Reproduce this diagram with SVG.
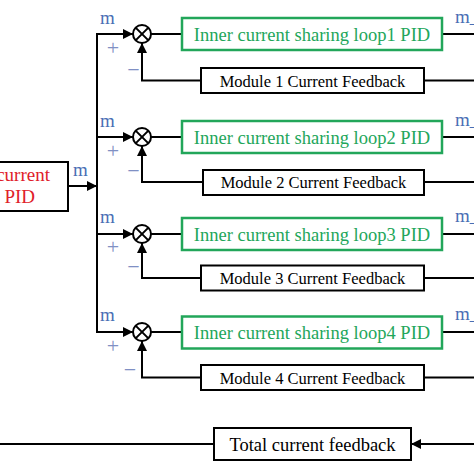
<svg xmlns="http://www.w3.org/2000/svg" width="474" height="474" viewBox="0 0 474 474">
<defs>
<marker id="ah" viewBox="0 0 10 10" refX="10" refY="5" markerWidth="10" markerHeight="10" markerUnits="userSpaceOnUse" orient="auto">
<path d="M0,0 L10,5 L0,10 z" fill="#000"/>
</marker>
<style>
.ln{stroke:#000;stroke-width:2;fill:none}
.arr{stroke:#000;stroke-width:2;fill:none;marker-end:url(#ah)}
.gbox{fill:#fff;stroke:#22a65a;stroke-width:2.5}
.bbox{fill:#fff;stroke:#000;stroke-width:2}
.gt{font-family:"Liberation Serif","Times New Roman",serif;font-size:18.5px;fill:#22a65a;text-anchor:middle}
.bt{font-family:"Liberation Serif","Times New Roman",serif;font-size:16.5px;fill:#000;text-anchor:middle}
.tt{font-family:"Liberation Serif","Times New Roman",serif;font-size:18.5px;fill:#000;text-anchor:middle}
.rt{font-family:"Liberation Serif","Times New Roman",serif;font-size:19px;fill:#e0202a;text-anchor:end}
.ml{font-family:"Liberation Serif","Times New Roman",serif;font-size:19px;fill:#4a6fb5}
.sg{font-family:"Liberation Serif","Times New Roman",serif;font-size:22px;fill:#8090c4;text-anchor:middle}
.sum{fill:#fff;stroke:#000;stroke-width:2}
</style>
</defs>
<rect width="474" height="474" fill="#fff"/>

<g id="connectors">
<line class="ln" x1="97" y1="33" x2="97" y2="333"/>
<line class="arr" x1="68" y1="186" x2="97" y2="186"/>
<path class="arr" d="M96,34 H133"/>
<line class="ln" x1="151" y1="34" x2="182" y2="34"/>
<line class="ln" x1="442" y1="34" x2="474" y2="34"/>
<path class="arr" d="M201,80.5 H142 V43"/>
<line class="ln" x1="424" y1="80.5" x2="474" y2="80.5"/>
<path class="arr" d="M97,137 H133"/>
<line class="ln" x1="151" y1="137" x2="182" y2="137"/>
<line class="ln" x1="442" y1="137" x2="474" y2="137"/>
<path class="arr" d="M203,182 H142 V146"/>
<line class="ln" x1="424" y1="182" x2="474" y2="182"/>
<path class="arr" d="M97,234 H133"/>
<line class="ln" x1="151" y1="234" x2="182" y2="234"/>
<line class="ln" x1="442" y1="234" x2="474" y2="234"/>
<path class="arr" d="M201,278 H142 V243"/>
<line class="ln" x1="424" y1="278" x2="474" y2="278"/>
<path class="arr" d="M96,332 H133"/>
<line class="ln" x1="151" y1="332" x2="182" y2="332"/>
<line class="ln" x1="442" y1="332" x2="474" y2="332"/>
<path class="arr" d="M201,377.5 H142 V341"/>
<line class="ln" x1="424" y1="377.5" x2="474" y2="377.5"/>
<line class="ln" x1="0" y1="444" x2="214" y2="444"/>
<line class="arr" x1="474" y1="444" x2="411" y2="444"/>
</g>

<g id="outer-pid">
<rect class="bbox" x="-20" y="162" width="88" height="49"/>
<text class="rt" x="50" y="181">current</text>
<text class="rt" x="35" y="203">PID</text>
<text class="ml" x="73" y="176">m</text>
</g>

<g id="loop1">
<text class="ml" x="100" y="24">m</text>
<text class="sg" x="113" y="55">+</text>
<text class="sg" x="133.5" y="77">−</text>
<g id="sum1"><circle class="sum" cx="142" cy="34" r="9"/><path class="ln" d="M135.6,27.6 L148.4,40.4 M148.4,27.6 L135.6,40.4"/></g>
<rect class="gbox" x="182" y="18" width="260" height="32"/>
<text class="gt" x="312" y="40.5">Inner current sharing loop1 PID</text>
<rect class="bbox" x="201" y="68" width="223" height="25"/>
<text class="bt" x="312.5" y="86.5">Module 1 Current Feedback</text>
<text class="ml" x="455" y="23">m_</text>
</g>

<g id="loop2">
<text class="ml" x="100" y="127">m</text>
<text class="sg" x="113" y="158">+</text>
<text class="sg" x="133.5" y="178">−</text>
<g id="sum2"><circle class="sum" cx="142" cy="137" r="9"/><path class="ln" d="M135.6,130.6 L148.4,143.4 M148.4,130.6 L135.6,143.4"/></g>
<rect class="gbox" x="182" y="121" width="260" height="32"/>
<text class="gt" x="312" y="143.5">Inner current sharing loop2 PID</text>
<rect class="bbox" x="203" y="170" width="221" height="25"/>
<text class="bt" x="313.5" y="188">Module 2 Current Feedback</text>
<text class="ml" x="455" y="126">m_</text>
</g>

<g id="loop3">
<text class="ml" x="100" y="223">m</text>
<text class="sg" x="113" y="254">+</text>
<text class="sg" x="133.5" y="274">−</text>
<g id="sum3"><circle class="sum" cx="142" cy="234" r="9"/><path class="ln" d="M135.6,227.6 L148.4,240.4 M148.4,227.6 L135.6,240.4"/></g>
<rect class="gbox" x="182" y="218" width="260" height="32"/>
<text class="gt" x="312" y="240.5">Inner current sharing loop3 PID</text>
<rect class="bbox" x="201" y="265.5" width="223" height="25"/>
<text class="bt" x="312.5" y="284">Module 3 Current Feedback</text>
<text class="ml" x="455" y="222">m_</text>
</g>

<g id="loop4">
<text class="ml" x="100" y="321">m</text>
<text class="sg" x="113" y="353">+</text>
<text class="sg" x="130" y="377">−</text>
<g id="sum4"><circle class="sum" cx="142" cy="332" r="9"/><path class="ln" d="M135.6,325.6 L148.4,338.4 M148.4,325.6 L135.6,338.4"/></g>
<rect class="gbox" x="182" y="316.5" width="260" height="32"/>
<text class="gt" x="312" y="338.5">Inner current sharing loop4 PID</text>
<rect class="bbox" x="201" y="365" width="223" height="25"/>
<text class="bt" x="312.5" y="383.5">Module 4 Current Feedback</text>
<text class="ml" x="455" y="320">m_</text>
</g>

<g id="total-feedback">
<rect class="bbox" x="214" y="428" width="197" height="32"/>
<text class="tt" x="312.5" y="450.5">Total current feedback</text>
</g>
</svg>
